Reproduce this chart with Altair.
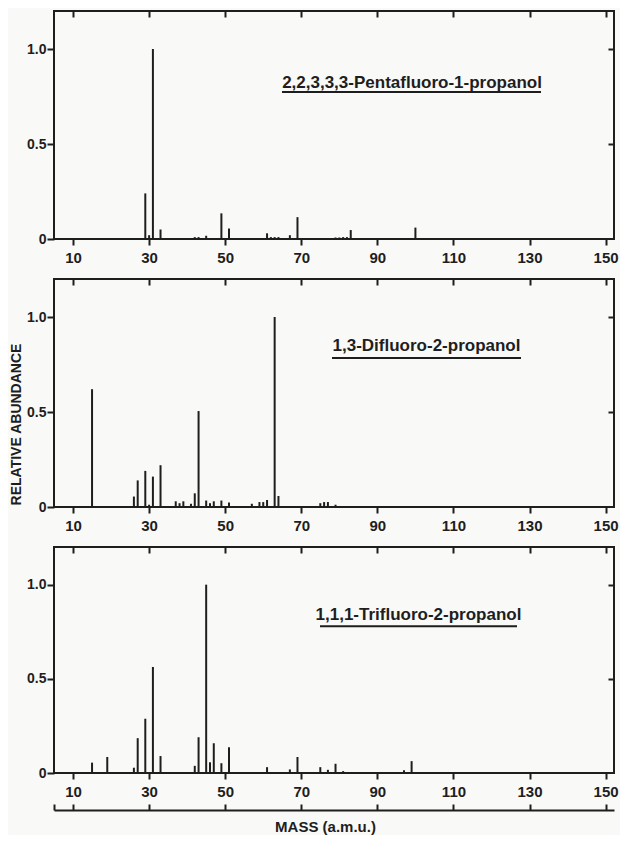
import altair as alt
import pandas as pd

# ---- data ----
tick_values = [10, 30, 50, 70, 90, 110, 130, 150]
y_tick_values = [0, 0.5, 1.0]

names = [
    "2,2,3,3,3-Pentafluoro-1-propanol",
    "1,3-Difluoro-2-propanol",
    "1,1,1-Trifluoro-2-propanol",
]

mass1 = [29, 30, 31, 33, 42, 43, 45, 49, 51, 61, 62, 63, 64, 67, 69, 79, 80, 81, 82, 83, 100]
abund1 = [0.24, 0.02, 1.0, 0.05, 0.01, 0.01, 0.017, 0.135, 0.055, 0.03, 0.01, 0.01, 0.01,
          0.02, 0.115, 0.008, 0.008, 0.01, 0.01, 0.047, 0.06]

mass2 = [15, 26, 27, 29, 30, 31, 33, 37, 38, 39, 41, 42, 43, 45, 46, 47, 49, 51, 57, 59,
         60, 61, 63, 64, 75, 76, 77, 79]
abund2 = [0.62, 0.055, 0.14, 0.19, 0.012, 0.16, 0.22, 0.03, 0.02, 0.03, 0.017, 0.072, 0.505,
          0.034, 0.02, 0.03, 0.034, 0.024, 0.017, 0.026, 0.026, 0.037, 1.0, 0.058, 0.02,
          0.026, 0.026, 0.012]

mass3 = [15, 19, 26, 27, 29, 31, 33, 42, 43, 45, 46, 47, 49, 51, 61, 62, 67, 69, 75, 77,
         79, 81, 97, 99]
abund3 = [0.055, 0.085, 0.028, 0.185, 0.288, 0.563, 0.09, 0.038, 0.19, 1.0, 0.057, 0.158,
          0.052, 0.137, 0.031, 0.005, 0.019, 0.085, 0.031, 0.017, 0.049, 0.01, 0.014, 0.063]

masses = [mass1, mass2, mass3]
abunds = [abund1, abund2, abund3]

# ---- layout / style ----
W = 560
heights = [228, 228, 226]
INK = "#1e1e1e"
FONT = "Liberation Sans"
label_pos = [(358, 73), (372.5, 68), (364.5, 70)]
underline = [(228, 487, 82), (278, 467, 80), (266, 463, 81)]

x_scale = alt.Scale(domain=[5, 152.2], nice=False, zero=False)
y_scale = alt.Scale(domain=[0, 1.2], nice=False)


def panel(i):
    h = heights[i]
    sy = h / 231.0
    df = pd.DataFrame({"mass": masses[i], "abund": abunds[i]})
    base = alt.Chart(df)

    yaxis_kw = dict(
        values=y_tick_values,
        labelExpr="datum.value == 0 ? '0' : format(datum.value, '.1f')",
        tickSize=7, labelPadding=1, labelFontSize=14,
    )
    if i == 1:
        yaxis_kw.update(title="RELATIVE     ABUNDANCE", titleY=round(147 * sy),
                        titleFontSize=14, titleFontWeight="bold", titlePadding=3)
    else:
        yaxis_kw["title"] = None

    bars = base.mark_rule(strokeWidth=2, color=INK).encode(
        x=alt.X("mass:Q", scale=x_scale,
                axis=alt.Axis(values=tick_values, tickSize=6, labelPadding=5,
                              labelFontSize=15, title=None, labelFlush=False)),
        y=alt.Y("abund:Q", scale=y_scale, axis=alt.Axis(**yaxis_kw)),
        y2=alt.Y2(datum=0),
    )

    inner = base.mark_rule(opacity=0).encode(
        x=alt.X("mass:Q", scale=x_scale,
                axis=alt.Axis(orient="bottom", offset=-h, values=tick_values,
                              labels=False, tickSize=6, title=None)),
        y=alt.Y("abund:Q", scale=y_scale,
                axis=alt.Axis(orient="left", offset=-W, values=[0.5, 1.0],
                              labels=False, tickSize=6, title=None)),
        y2=alt.Y2(datum=0),
    )

    name_df = pd.DataFrame({"name": [names[i]]})
    tx, ty = label_pos[i]
    txt = alt.Chart(name_df).mark_text(
        font=FONT, fontSize=17, fontWeight="bold", color=INK,
        align="center", baseline="middle",
    ).encode(x=alt.value(tx), y=alt.value(ty * sy), text="name:N")
    ux1, ux2, uy = underline[i]
    ul = alt.Chart(name_df).mark_rule(strokeWidth=2, color=INK).encode(
        x=alt.value(ux1), x2=alt.value(ux2), y=alt.value(uy * sy)
    )

    layers = [bars, inner, txt, ul]
    if i == 2:
        extra = base.mark_rule(opacity=0).encode(
            x=alt.X("mass:Q", scale=x_scale,
                    axis=alt.Axis(orient="top", offset=-(h + 37), values=[5] + tick_values,
                                  labels=False, domain=True, domainColor=INK,
                                  domainWidth=2, tickSize=6,
                                  title="MASS   (a.m.u.)", titleX=271, titleY=16,
                                  titleBaseline="middle", titleFontSize=15,
                                  titleFontWeight="bold")),
        )
        layers.append(extra)

    return alt.layer(*layers).resolve_axis(x="independent", y="independent").properties(
        width=W, height=h
    )


chart = alt.vconcat(panel(0), panel(1), panel(2), spacing=11).properties(
    padding={"left": 0, "top": 1, "right": 0, "bottom": 0},
    background="#f9f9f7",
).configure_view(stroke=INK, strokeWidth=2).configure_axis(
    labelFont=FONT, labelColor=INK, labelFontWeight="bold", tickColor=INK, tickWidth=2,
    grid=False, domain=False, titleFont=FONT, titleColor=INK,
)

chart.save("out.html", embed_options={"renderer": "svg", "actions": False})
